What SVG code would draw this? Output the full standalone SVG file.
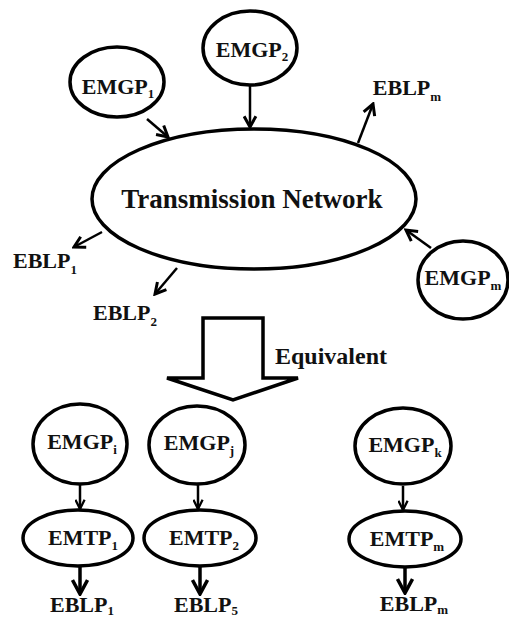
<svg xmlns="http://www.w3.org/2000/svg" width="509" height="620" viewBox="0 0 509 620">
<style>
.n{fill:#fff;stroke:#000;stroke-width:3.5}
.t{font-family:"Liberation Serif","Times New Roman",serif;font-weight:bold;fill:#111;text-anchor:middle}
.l{font-size:22px}
.s{font-size:13px}
.c line{stroke:#000;stroke-width:2.5}
.c line.w{stroke-width:3.5}
</style>
<defs>
<marker id="a" viewBox="0 0 14 14" refX="12" refY="7" markerWidth="15" markerHeight="15" markerUnits="userSpaceOnUse" orient="auto">
<path d="M2,1.5 L12,7 L2,12.5" fill="none" stroke="#000" stroke-width="2.8"/>
</marker>
<marker id="b" viewBox="0 0 12 12" refX="11" refY="6" markerWidth="11" markerHeight="11" markerUnits="userSpaceOnUse" orient="auto">
<path d="M1,1 L11,6 L1,11" fill="none" stroke="#000" stroke-width="2.5"/>
</marker>
<marker id="c" viewBox="0 0 18 18" refX="16" refY="9" markerWidth="18" markerHeight="18" markerUnits="userSpaceOnUse" orient="auto">
<path d="M2,1.5 L16,9 L2,16.5" fill="none" stroke="#000" stroke-width="3.5"/>
</marker>
</defs>
<g id="connectors" class="c">
<line x1="147" y1="119" x2="168" y2="137" marker-end="url(#a)"/>
<line x1="250" y1="86" x2="250" y2="127" marker-end="url(#a)"/>
<line x1="358" y1="143" x2="373" y2="104" marker-end="url(#a)"/>
<line x1="102" y1="232" x2="74" y2="247" marker-end="url(#a)"/>
<line x1="177" y1="268" x2="155" y2="294" marker-end="url(#a)"/>
<line x1="431" y1="248" x2="406" y2="230" marker-end="url(#a)"/>
<line x1="80" y1="485" x2="80" y2="509" marker-end="url(#b)"/>
<line x1="198" y1="485" x2="198" y2="509" marker-end="url(#b)"/>
<line x1="403" y1="486" x2="403" y2="510" marker-end="url(#b)"/>
<line class="w" x1="80" y1="567" x2="80" y2="594" marker-end="url(#c)"/>
<line class="w" x1="200" y1="567" x2="200" y2="594" marker-end="url(#c)"/>
<line class="w" x1="405" y1="567" x2="405" y2="593" marker-end="url(#c)"/>
</g>
<g id="network">
<ellipse class="n" cx="254" cy="199" rx="162" ry="70"/>
<text class="t" x="252" y="208" font-size="27">Transmission Network</text>
</g>
<g id="emgp1">
<ellipse class="n" cx="117" cy="82" rx="47" ry="35"/>
<text class="t l" x="118" y="94">EMGP<tspan class="s" dy="4">1</tspan></text>
</g>
<g id="emgp2">
<ellipse class="n" cx="250" cy="48" rx="47" ry="37"/>
<text class="t l" x="252" y="57">EMGP<tspan class="s" dy="4">2</tspan></text>
</g>
<g id="emgpm">
<ellipse class="n" cx="463" cy="280" rx="45" ry="39"/>
<text class="t l" x="463" y="285">EMGP<tspan class="s" dy="5">m</tspan></text>
</g>
<g id="eblpm-top"><text class="t l" x="407" y="95">EBLP<tspan class="s" dy="6">m</tspan></text></g>
<g id="eblp1-top"><text class="t l" x="45" y="268">EBLP<tspan class="s" dy="6">1</tspan></text></g>
<g id="eblp2-top"><text class="t l" x="125" y="320">EBLP<tspan class="s" dy="6">2</tspan></text></g>
<g id="equivalent">
<path d="M203,318 H263 V378 H298 L233,400 L167,378 H203 Z" fill="#fff" stroke="#000" stroke-width="3.5" stroke-linejoin="miter"/>
<text class="t" x="331" y="364" font-size="24">Equivalent</text>
</g>
<g id="emgpi">
<ellipse class="n" cx="80" cy="444" rx="47" ry="40"/>
<text class="t l" x="82" y="449">EMGP<tspan class="s" dy="5">i</tspan></text>
</g>
<g id="emgpj">
<ellipse class="n" cx="197" cy="445" rx="48" ry="39"/>
<text class="t l" x="199" y="450">EMGP<tspan class="s" dy="5">j</tspan></text>
</g>
<g id="emgpk">
<ellipse class="n" cx="403" cy="446" rx="48" ry="38"/>
<text class="t l" x="405" y="452">EMGP<tspan class="s" dy="5">k</tspan></text>
</g>
<g id="emtp1">
<ellipse class="n" cx="78" cy="538" rx="55" ry="28"/>
<text class="t l" x="83" y="545">EMTP<tspan class="s" dy="5">1</tspan></text>
</g>
<g id="emtp2">
<ellipse class="n" cx="200" cy="538" rx="56" ry="28"/>
<text class="t l" x="204" y="545">EMTP<tspan class="s" dy="5">2</tspan></text>
</g>
<g id="emtpm">
<ellipse class="n" cx="405" cy="539" rx="56" ry="28"/>
<text class="t l" x="407" y="546">EMTP<tspan class="s" dy="5">m</tspan></text>
</g>
<g id="eblp1"><text class="t l" x="82" y="612">EBLP<tspan class="s" dy="3">1</tspan></text></g>
<g id="eblp5"><text class="t l" x="206" y="612">EBLP<tspan class="s" dy="3">5</tspan></text></g>
<g id="eblpm"><text class="t l" x="414" y="611">EBLP<tspan class="s" dy="3">m</tspan></text></g>
</svg>
